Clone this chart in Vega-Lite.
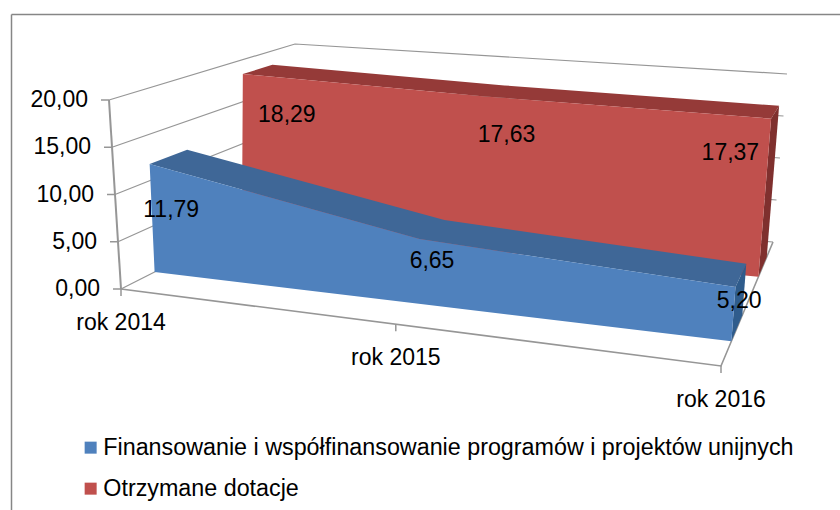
{
"$schema":"https://vega.github.io/schema/vega-lite/v6.json",
"autosize":"none","width":829,"height":496,
"padding":{"left":11,"top":14,"right":0,"bottom":0},
"background":"white",
"config":{"view":{"stroke":null},"axis":{"grid":false,"ticks":false,"labels":false,"title":null,"domainColor":"#868686","domainWidth":1.5}},
"datasets":{
"serie":[
{"seria":"Otrzymane dotacje","rok":"rok 2014","wartosc":18.29},
{"seria":"Otrzymane dotacje","rok":"rok 2015","wartosc":17.63},
{"seria":"Otrzymane dotacje","rok":"rok 2016","wartosc":17.37},
{"seria":"Finansowanie i współfinansowanie programów i projektów unijnych","rok":"rok 2014","wartosc":11.79},
{"seria":"Finansowanie i współfinansowanie programów i projektów unijnych","rok":"rok 2015","wartosc":6.65},
{"seria":"Finansowanie i współfinansowanie programów i projektów unijnych","rok":"rok 2016","wartosc":5.20}],
"os":[{"wartosc":0},{"wartosc":5},{"wartosc":10},{"wartosc":15},{"wartosc":20}]},
"encoding":{
"x":{"field":"X","type":"quantitative","scale":{"domain":[11,840],"nice":false,"zero":false},"axis":{"orient":"top"}},
"y":{"field":"Y","type":"quantitative","scale":{"domain":[14,510],"nice":false,"zero":false,"reverse":true},"axis":{"orient":"left"}}},
"layer":[
{"data":{"name":"os"},"transform":[
{"calculate":"[0,1,2]","as":"v"},{"flatten":["v"]},
{"calculate":"datum.v==2?1:0","as":"u"},{"calculate":"datum.v==0?0:1","as":"d"},{"calculate":"datum.wartosc/20","as":"f"},
{"calculate":"(1-datum.d)*((1-datum.u)*(121-12*datum.f)+datum.u*(721+16*datum.f))+datum.d*((1-datum.u)*(289+6*datum.f)+datum.u*(773+14*datum.f))","as":"X"},
{"calculate":"(1-datum.d)*((1-datum.u)*(289-189*datum.f)+datum.u*(366-218*datum.f))+datum.d*((1-datum.u)*(204-160*datum.f)+datum.u*(242-168*datum.f))","as":"Y"}],
"mark":{"type":"line","stroke":"#969696","strokeWidth":1.2},"encoding":{"detail":{"field":"wartosc"},"order":{"field":"v"}}},
{"data":{"name":"os"},"transform":[
{"calculate":"datum.wartosc/20","as":"f"},
{"calculate":"121-12*datum.f","as":"X"},{"calculate":"289-189*datum.f","as":"Y"}],
"mark":{"type":"line","stroke":"#969696","strokeWidth":2},"encoding":{"order":{"field":"wartosc"}}},
{"data":{"name":"os"},"transform":[
{"calculate":"datum.wartosc/20","as":"f"},
{"calculate":"121-12*datum.f","as":"X"},{"calculate":"datum.X-8","as":"X2"},{"calculate":"289-189*datum.f","as":"Y"}],
"mark":{"type":"rule","stroke":"#969696","strokeWidth":1.5},"encoding":{"x2":{"field":"X2"}}},
{"data":{"name":"os"},"transform":[
{"filter":"datum.wartosc==0"},{"calculate":"[0,1,2]","as":"v"},{"flatten":["v"]},
{"calculate":"datum.v==0?0:1","as":"u"},{"calculate":"datum.v==2?1:0","as":"d"},
{"calculate":"(1-datum.d)*((1-datum.u)*121+datum.u*721)+datum.d*((1-datum.u)*289+datum.u*773)","as":"X"},
{"calculate":"(1-datum.d)*((1-datum.u)*289+datum.u*366)+datum.d*((1-datum.u)*204+datum.u*242)","as":"Y"}],
"mark":{"type":"line","stroke":"#969696","strokeWidth":1.6},"encoding":{"order":{"field":"v"}}},
{"data":{"name":"serie"},"transform":[
{"filter":"datum.seria=='Otrzymane dotacje'"},
{"calculate":"datum.rok=='rok 2014'?0:datum.rok=='rok 2015'?1:2","as":"i"},
{"calculate":"datum.i==0?0:datum.i==1?0.458:1","as":"u"},
{"calculate":"['top','side']","as":"face"},{"flatten":["face"]},
{"calculate":"[0,1,2,3]","as":"v"},{"flatten":["v"]},
{"filter":"datum.face=='top'?datum.v<2:datum.i==2"},
{"calculate":"datum.face=='top'?(datum.v==0?0.72:0.88):(datum.v<2?0.72:0.88)","as":"d"},
{"calculate":"datum.face=='top'||datum.v==1||datum.v==2?datum.wartosc/20:0","as":"f"},
{"calculate":"datum.face=='top'?(datum.v==0?datum.i:5-datum.i):datum.v","as":"ord"},
{"calculate":"(1-datum.d)*((1-datum.u)*(121-12*datum.f)+datum.u*(721+16*datum.f))+datum.d*((1-datum.u)*(289+6*datum.f)+datum.u*(773+14*datum.f))","as":"X"},
{"calculate":"(1-datum.d)*((1-datum.u)*(289-189*datum.f)+datum.u*(366-218*datum.f))+datum.d*((1-datum.u)*(204-160*datum.f)+datum.u*(242-168*datum.f))","as":"Y"}],
"mark":{"type":"line","interpolate":"linear-closed","strokeWidth":0},
"encoding":{"detail":{"field":"face"},"order":{"field":"ord"},"fill":{"condition":{"test":"datum.face=='top'","value":"#953A38"},"value":"#7F302E"}}},
{"data":{"name":"serie"},"transform":[
{"filter":"datum.seria=='Otrzymane dotacje'"},
{"calculate":"datum.rok=='rok 2014'?0:datum.rok=='rok 2015'?1:2","as":"i"},
{"calculate":"datum.i==0?0:datum.i==1?0.458:1","as":"u"},
{"calculate":"[0,1]","as":"v"},{"flatten":["v"]},
{"calculate":"0.72","as":"d"},
{"calculate":"datum.v==0?datum.wartosc/20:0","as":"f"},
{"calculate":"datum.v==0?datum.i:5-datum.i","as":"ord"},
{"calculate":"(1-datum.d)*((1-datum.u)*(121-12*datum.f)+datum.u*(721+16*datum.f))+datum.d*((1-datum.u)*(289+6*datum.f)+datum.u*(773+14*datum.f))","as":"X"},
{"calculate":"(1-datum.d)*((1-datum.u)*(289-189*datum.f)+datum.u*(366-218*datum.f))+datum.d*((1-datum.u)*(204-160*datum.f)+datum.u*(242-168*datum.f))","as":"Y"}],
"mark":{"type":"line","interpolate":"linear-closed","strokeWidth":0},
"encoding":{"order":{"field":"ord"},"fill":{"field":"seria","type":"nominal","scale":{"domain":["Finansowanie i współfinansowanie programów i projektów unijnych","Otrzymane dotacje"],"range":["#4F81BD","#C0504D"]},
"legend":{"title":null,"orient":"none","legendX":68,"legendY":422,"symbolType":"square","symbolSize":144,"symbolStrokeWidth":0,"labelFont":"Liberation Sans","labelFontSize":23.3,"labelColor":"#000000","labelLimit":800,"rowPadding":17,"labelOffset":1}}}},
{"data":{"name":"serie"},"transform":[
{"filter":"datum.seria!='Otrzymane dotacje'"},
{"calculate":"datum.rok=='rok 2014'?0:datum.rok=='rok 2015'?1:2","as":"i"},
{"calculate":"datum.i==0?0:datum.i==1?0.458:1","as":"u"},
{"calculate":"['top','side']","as":"face"},{"flatten":["face"]},
{"calculate":"[0,1,2,3]","as":"v"},{"flatten":["v"]},
{"filter":"datum.face=='top'?datum.v<2:datum.i==2"},
{"calculate":"datum.face=='top'?(datum.v==0?0.2:0.41):(datum.v<2?0.2:0.41)","as":"d"},
{"calculate":"datum.face=='top'||datum.v==1||datum.v==2?datum.wartosc/20:0","as":"f"},
{"calculate":"datum.face=='top'?(datum.v==0?datum.i:5-datum.i):datum.v","as":"ord"},
{"calculate":"(1-datum.d)*((1-datum.u)*(121-12*datum.f)+datum.u*(721+16*datum.f))+datum.d*((1-datum.u)*(289+6*datum.f)+datum.u*(773+14*datum.f))","as":"X"},
{"calculate":"(1-datum.d)*((1-datum.u)*(289-189*datum.f)+datum.u*(366-218*datum.f))+datum.d*((1-datum.u)*(204-160*datum.f)+datum.u*(242-168*datum.f))","as":"Y"}],
"mark":{"type":"line","interpolate":"linear-closed","strokeWidth":0},
"encoding":{"detail":{"field":"face"},"order":{"field":"ord"},"fill":{"condition":{"test":"datum.face=='top'","value":"#3F6797"},"value":"#2F5C8C"}}},
{"data":{"name":"serie"},"transform":[
{"filter":"datum.seria!='Otrzymane dotacje'"},
{"calculate":"datum.rok=='rok 2014'?0:datum.rok=='rok 2015'?1:2","as":"i"},
{"calculate":"datum.i==0?0:datum.i==1?0.458:1","as":"u"},
{"calculate":"[0,1]","as":"v"},{"flatten":["v"]},
{"calculate":"0.2","as":"d"},
{"calculate":"datum.v==0?datum.wartosc/20:0","as":"f"},
{"calculate":"datum.v==0?datum.i:5-datum.i","as":"ord"},
{"calculate":"(1-datum.d)*((1-datum.u)*(121-12*datum.f)+datum.u*(721+16*datum.f))+datum.d*((1-datum.u)*(289+6*datum.f)+datum.u*(773+14*datum.f))","as":"X"},
{"calculate":"(1-datum.d)*((1-datum.u)*(289-189*datum.f)+datum.u*(366-218*datum.f))+datum.d*((1-datum.u)*(204-160*datum.f)+datum.u*(242-168*datum.f))","as":"Y"}],
"mark":{"type":"line","interpolate":"linear-closed","strokeWidth":0},
"encoding":{"order":{"field":"ord"},"fill":{"field":"seria","type":"nominal"}}},
{"data":{"name":"serie"},"transform":[
{"filter":"datum.seria=='Otrzymane dotacje'"},
{"calculate":"datum.rok=='rok 2014'?0:datum.rok=='rok 2015'?0.458:1","as":"u"},
{"calculate":"121+datum.u*600","as":"X"},
{"calculate":"289+datum.u*77","as":"Y"},
{"calculate":"datum.Y+7","as":"Y2"}],
"mark":{"type":"rule","stroke":"#969696","strokeWidth":1.5},"encoding":{"y2":{"field":"Y2"}}},
{"data":{"name":"os"},"transform":[
{"calculate":"replace(format(datum.wartosc,'.2f'),'.',',')","as":"tekst"},
{"calculate":"datum.wartosc/20","as":"f"},
{"calculate":"121-12*datum.f","as":"X"},{"calculate":"289-189*datum.f","as":"Y"}],
"mark":{"type":"text","align":"right","baseline":"middle","dx":-21,"font":"Liberation Sans","fontSize":23,"fill":"#000000"},"encoding":{"text":{"field":"tekst"}}},
{"data":{"name":"serie"},"transform":[
{"filter":"datum.seria=='Otrzymane dotacje'"},
{"calculate":"datum.rok=='rok 2014'?0:datum.rok=='rok 2015'?0.458:1","as":"u"},
{"calculate":"121+datum.u*600","as":"X"},
{"calculate":"289+datum.u*77","as":"Y"}],
"mark":{"type":"text","align":"center","baseline":"middle","dy":34,"font":"Liberation Sans","fontSize":23,"fill":"#000000"},"encoding":{"text":{"field":"rok"}}},
{"data":{"name":"serie"},"transform":[
{"calculate":"datum.seria=='Otrzymane dotacje'","as":"cz"},
{"calculate":"datum.rok=='rok 2014'?0:datum.rok=='rok 2015'?1:2","as":"i"},
{"calculate":"datum.cz?(datum.i==0?0.058:datum.i==1?0.485:0.92):(datum.i==0?0:datum.i==1?0.458:1)","as":"u"},
{"calculate":"datum.cz?0.8:0.31","as":"d"},
{"calculate":"datum.wartosc/20*(datum.cz?0.715:0.5)","as":"f"},
{"calculate":"replace(format(datum.wartosc,'.2f'),'.',',')","as":"tekst"},
{"calculate":"(1-datum.d)*((1-datum.u)*(121-12*datum.f)+datum.u*(721+16*datum.f))+datum.d*((1-datum.u)*(289+6*datum.f)+datum.u*(773+14*datum.f))","as":"X"},
{"calculate":"(1-datum.d)*((1-datum.u)*(289-189*datum.f)+datum.u*(366-218*datum.f))+datum.d*((1-datum.u)*(204-160*datum.f)+datum.u*(242-168*datum.f))","as":"Y"}],
"mark":{"type":"text","align":"center","baseline":"middle","font":"Liberation Sans","fontSize":23,"fill":"#000000"},"encoding":{"text":{"field":"tekst"}}}
]}
